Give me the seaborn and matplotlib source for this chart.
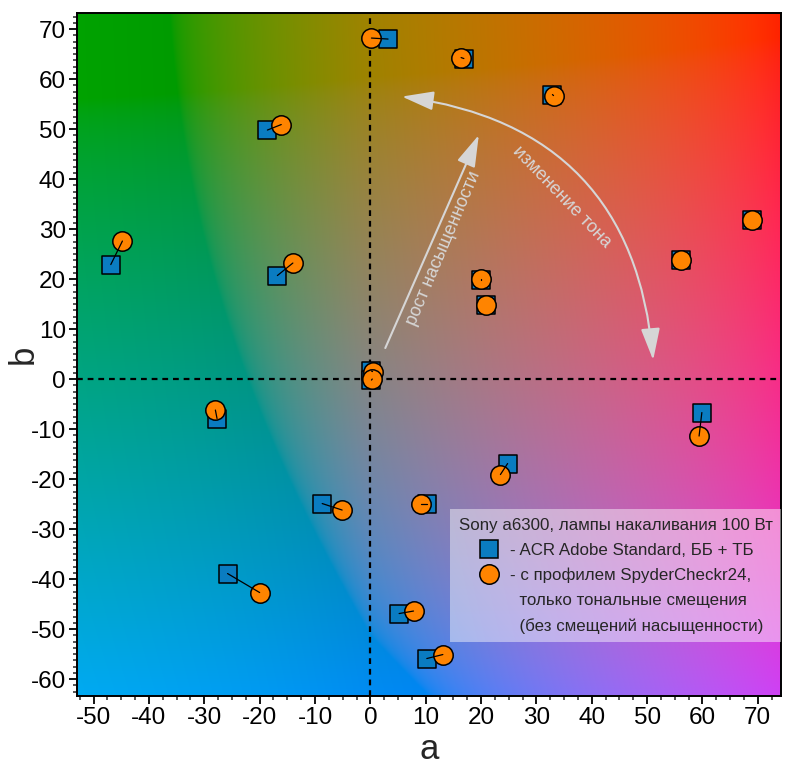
import numpy as np
import matplotlib
matplotlib.use("Agg")
import matplotlib.pyplot as plt
import seaborn as sns
from matplotlib.lines import Line2D
from matplotlib.patches import FancyArrowPatch

# points: ACR Adobe Standard (squares) and SpyderCheckr24 profile (circles)
sq_a = [3.2, 16.9, 32.9, -18.6, -46.9, -16.8, 68.9, 56.1, 20.0, 20.9, 0.2, 0.2, -27.7, -8.7, 10.2, -25.8, 5.2, 10.2, 24.8, 59.9]
sq_b = [68.0, 64.1, 56.9, 49.8, 22.9, 20.7, 31.8, 23.9, 19.9, 14.9, 1.6, -0.2, -7.9, -24.9, -25.0, -38.9, -46.9, -55.9, -16.9, -6.7]
ci_a = [0.2, 16.4, 33.1, -16.1, -44.8, -14.0, 69.0, 56.1, 20.0, 20.9, 0.4, 0.35, -28.0, -5.1, 9.2, -20.0, 7.8, 13.1, 23.5, 59.4]
ci_b = [68.2, 64.3, 56.7, 50.9, 27.6, 23.2, 31.8, 23.8, 20.0, 14.9, 1.5, 0.0, -6.2, -26.2, -25.0, -42.7, -46.4, -55.1, -19.1, -11.4]

xticks = list(range(-50, 71, 10))
yticks = list(range(-60, 71, 10))

legend_title = "Sony a6300, лампы накаливания 100 Вт"
label_sq = "- ACR Adobe Standard, ББ + ТБ"
label_ci = ["- с профилем SpyderCheckr24,", "  только тональные смещения", "  (без смещений насыщенности)  "]

XLIM = (-53, 74.2)
YLIM = (-63.4, 73.2)


def lab_background(L, k_neg, k_pos, n=500):
    a = np.linspace(XLIM[0], XLIM[1], n)
    b = np.linspace(YLIM[0], YLIM[1], n)
    A, B = np.meshgrid(a, b)
    A = np.where(A < 0, A * k_neg, A * k_pos)
    fy = (L + 16) / 116.0
    fx = fy + A / 500.0
    fz = fy - B / 200.0

    def finv(t):
        return np.where(t > 6 / 29, t ** 3, 3 * (6 / 29) ** 2 * (t - 4 / 29))

    X = 0.95047 * finv(fx)
    Y = finv(fy) * np.ones_like(A)
    Z = 1.08883 * finv(fz)
    R = 3.2406 * X - 1.5372 * Y - 0.4986 * Z
    G = -0.9689 * X + 1.8758 * Y + 0.0415 * Z
    Bl = 0.0557 * X - 0.2040 * Y + 1.0570 * Z
    rgb = np.clip(np.dstack([R, G, Bl]), 0, 1)
    rgb = np.where(rgb <= 0.0031308, 12.92 * rgb, 1.055 * rgb ** (1 / 2.4) - 0.055)
    return np.clip(rgb, 0, 1)


sns.set_style("ticks")
plt.rcParams['font.family'] = ['Liberation Sans', 'DejaVu Sans']
plt.rcParams['axes.unicode_minus'] = False

fig = plt.figure(figsize=(7.9, 7.68), dpi=100)
ax = fig.add_axes([0.0975, 0.0937, 0.8911, 0.8893])

ax.imshow(lab_background(55.5, 1.7, 1.05), extent=[XLIM[0], XLIM[1], YLIM[0], YLIM[1]],
          origin='lower', aspect='auto', zorder=0, interpolation='bilinear')

ax.axhline(0, color='black', lw=1.6, ls=(0, (2.6, 2.2)), zorder=1)
ax.axvline(0, color='black', lw=1.6, ls=(0, (2.6, 2.2)), zorder=1)

sq_color = '#0a7cc1'
ci_color = '#ff8400'
sns.scatterplot(x=sq_a, y=sq_b, marker='s', s=180, color=sq_color, edgecolor='black',
                linewidth=1.1, ax=ax, zorder=3)
sns.scatterplot(x=ci_a, y=ci_b, marker='o', s=195, color=ci_color, edgecolor='black',
                linewidth=1.1, ax=ax, zorder=4)
for i in range(len(sq_a)):
    ax.plot([sq_a[i], ci_a[i]], [sq_b[i], ci_b[i]], color='black', lw=0.9, zorder=5)

# arrows
arrow_col = '#d6d6d6'
ax.add_patch(FancyArrowPatch((2.7, 6.2), (19.6, 48.8), arrowstyle='-|>,head_length=1.4,head_width=0.42',
                             mutation_scale=14, color=arrow_col, lw=1.5, shrinkA=0, shrinkB=0, zorder=2))
ax.add_patch(FancyArrowPatch((5.7, 56.5), (51.1, 3.8), arrowstyle='<|-|>,head_length=1.4,head_width=0.42',
                             connectionstyle='arc3,rad=-0.4', mutation_scale=14, color=arrow_col, lw=1.5,
                             shrinkA=0, shrinkB=0, zorder=2))
ax.text(13.2, 26.2, "рост насыщенности", rotation=67, color=arrow_col, fontsize=13,
        ha='center', va='center', rotation_mode='anchor', zorder=2)
ax.text(34.6, 36.4, "изменение тона", rotation=-46, color=arrow_col, fontsize=13,
        ha='center', va='center', rotation_mode='anchor', zorder=2)

ax.set_xlim(XLIM)
ax.set_ylim(YLIM)
ax.set_xticks(xticks)
ax.set_yticks(yticks)
ax.set_xticks(np.arange(-52.5, 74, 2.5), minor=True)
ax.set_yticks(np.arange(-62.5, 73, 1.25), minor=True)
ax.tick_params(axis='both', which='major', labelsize=17.5, length=6, width=1.3, pad=2, colors='black')
ax.tick_params(axis='both', which='minor', length=3, width=1.1)
for sp in ax.spines.values():
    sp.set_linewidth(1.4)
    sp.set_color('black')
ax.set_xlabel("a", fontsize=25, labelpad=3)
ax.set_ylabel("b", fontsize=25, labelpad=-6.5)

handles = [Line2D([], [], marker='s', ls='none', markersize=13.5, markerfacecolor=sq_color,
                  markeredgecolor='black', markeredgewidth=1.1),
           Line2D([], [], marker='o', ls='none', markersize=14, markerfacecolor=ci_color,
                  markeredgecolor='black', markeredgewidth=1.1),
           Line2D([], [], ls='none'),
           Line2D([], [], ls='none')]
leg = ax.legend(handles, [label_sq] + label_ci, title=legend_title, loc='lower right',
                bbox_to_anchor=(1.0, 0.079), borderaxespad=0, fontsize=12.2, title_fontsize=12.2,
                frameon=True, fancybox=False, framealpha=0.45, facecolor='white', edgecolor='none',
                labelspacing=0.58, handlelength=1.2, handletextpad=0.6, borderpad=0.5,
                alignment='right')
leg.get_frame().set_linewidth(0)

fig.savefig("out.png", dpi=100)
